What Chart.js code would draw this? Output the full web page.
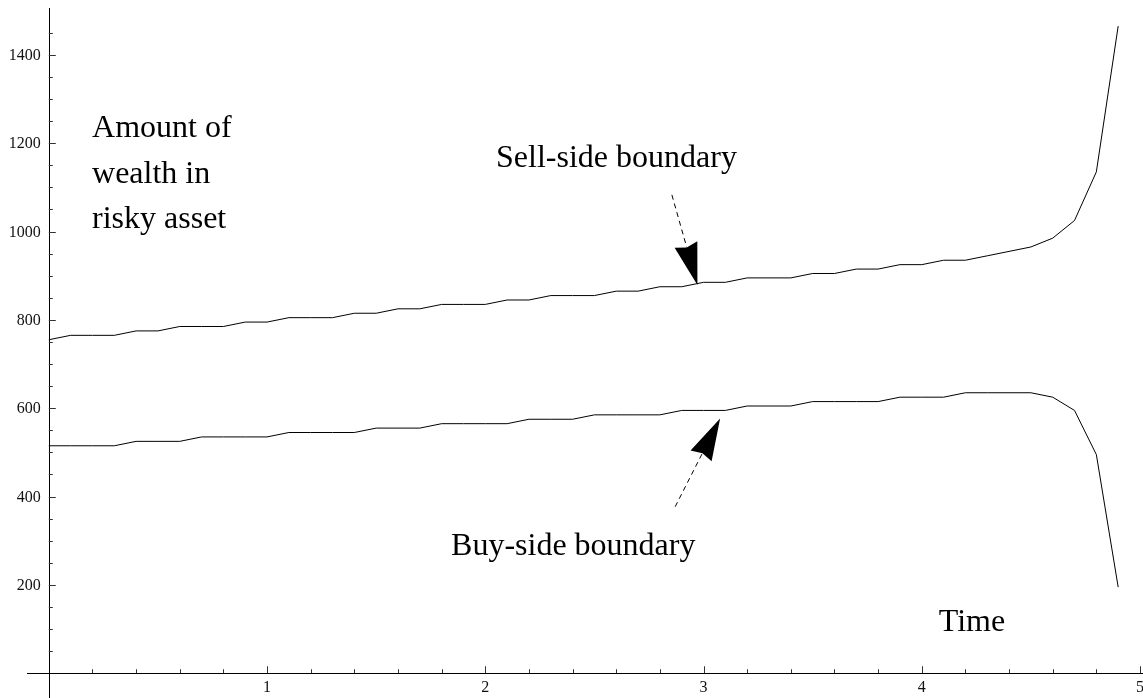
<!DOCTYPE html>
<html lang="en">
  <head>
    <meta charset="UTF-8" />
    <title>Trading boundaries</title>
    <script src="https://cdn.jsdelivr.net/npm/chart.js@4"></script>
    <style>
      html, body { margin: 0; padding: 0; background: #fff; }
      canvas { display: block; }
    </style>
  </head>
  <body>
    <canvas id="myChart" width="1143" height="698"></canvas>

    <script>
      // time grid, step 0.1
      const times = [
        0.0, 0.1, 0.2, 0.3, 0.4, 0.5, 0.6, 0.7, 0.8, 0.9,
        1.0, 1.1, 1.2, 1.3, 1.4, 1.5, 1.6, 1.7, 1.8, 1.9,
        2.0, 2.1, 2.2, 2.3, 2.4, 2.5, 2.6, 2.7, 2.8, 2.9,
        3.0, 3.1, 3.2, 3.3, 3.4, 3.5, 3.6, 3.7, 3.8, 3.9,
        4.0, 4.1, 4.2, 4.3, 4.4, 4.5, 4.6, 4.7, 4.8, 4.9
      ];
      const sellBoundary = [
        755, 765, 765, 765, 775, 775, 785, 785, 785, 795,
        795, 805, 805, 805, 815, 815, 825, 825, 835, 835,
        835, 845, 845, 855, 855, 855, 865, 865, 875, 875,
        885, 885, 895, 895, 895, 905, 905, 915, 915, 925,
        925, 935, 935, 945, 955, 965, 985, 1025, 1135, 1465
      ];
      const buyBoundary = [
        515, 515, 515, 515, 525, 525, 525, 535, 535, 535,
        535, 545, 545, 545, 545, 555, 555, 555, 565, 565,
        565, 565, 575, 575, 575, 585, 585, 585, 585, 595,
        595, 595, 605, 605, 605, 615, 615, 615, 615, 625,
        625, 625, 635, 635, 635, 635, 625, 595, 495, 195
      ];
      const xTickLabels = [1, 2, 3, 4, 5];
      const yTickLabels = [200, 400, 600, 800, 1000, 1200, 1400];

      // arrows: [tailX, tailY] -> [tipX, tipY] in data units
      const sellArrow = { from: [2.855, 1083], to: [2.972, 879] };
      const buyArrow = { from: [2.870, 377], to: [3.076, 577] };

      const labels = [
        { text: 'Amount of', x: 0.198, y: 1215, align: 'left' },
        { text: 'wealth in', x: 0.198, y: 1109, align: 'left' },
        { text: 'risky asset', x: 0.198, y: 1007, align: 'left' },
        { text: 'Sell-side boundary', x: 2.601, y: 1146, align: 'center' },
        { text: 'Buy-side boundary', x: 2.403, y: 268, align: 'center' },
        { text: 'Time', x: 4.23, y: 96, align: 'center' }
      ];

      const serif = '"Liberation Serif", "Times New Roman", serif';

      function toPoints(ys) {
        return times.map((t, i) => ({ x: t, y: ys[i] }));
      }

      function drawArrow(ctx, x0, y0, x1, y1) {
        const headLen = 42, halfW = 11.8, notch = 3;
        const dx = x1 - x0, dy = y1 - y0;
        const len = Math.hypot(dx, dy);
        const ux = dx / len, uy = dy / len;
        const px = -uy, py = ux;
        const bx = x1 - ux * headLen, by = y1 - uy * headLen;

        ctx.save();
        ctx.strokeStyle = '#000';
        ctx.lineWidth = 1;
        ctx.setLineDash([5, 4]);
        ctx.beginPath();
        ctx.moveTo(x0, y0);
        ctx.lineTo(bx + ux * notch, by + uy * notch);
        ctx.stroke();
        ctx.setLineDash([]);

        ctx.fillStyle = '#000';
        ctx.beginPath();
        ctx.moveTo(x1, y1);
        ctx.lineTo(bx + px * halfW, by + py * halfW);
        ctx.lineTo(bx + ux * notch, by + uy * notch);
        ctx.lineTo(bx - px * halfW, by - py * halfW);
        ctx.closePath();
        ctx.fill();
        ctx.restore();
      }

      // axes through the origin, ticks pointing inward
      const originAxes = {
        id: 'originAxes',
        beforeDatasetsDraw(chart) {
          const ctx = chart.ctx;
          const xs = chart.scales.x, ys = chart.scales.y;
          const x0 = xs.getPixelForValue(0);
          const y0 = ys.getPixelForValue(0);
          const W = chart.width, H = chart.height;

          ctx.save();
          ctx.strokeStyle = '#000';
          ctx.lineWidth = 1;
          ctx.beginPath();
          ctx.moveTo(chart.chartArea.left, Math.round(y0) + 0.5);
          ctx.lineTo(W, Math.round(y0) + 0.5);
          ctx.moveTo(Math.round(x0) + 0.5, chart.chartArea.top);
          ctx.lineTo(Math.round(x0) + 0.5, H);
          ctx.stroke();

          ctx.strokeStyle = '#333';
          ctx.beginPath();
          // x ticks every 0.2, major at integers
          for (let k = 1; k <= 25; k++) {
            const v = k / 5;
            const px = Math.round(xs.getPixelForValue(v)) + 0.5;
            const len = k % 5 === 0 ? 7 : 4;
            ctx.moveTo(px, y0);
            ctx.lineTo(px, y0 - len);
          }
          // y ticks every 50, major every 200
          for (let k = 1; k <= 29; k++) {
            const v = k * 50;
            const py = Math.round(ys.getPixelForValue(v)) + 0.5;
            const len = v % 200 === 0 ? 7 : 4;
            ctx.moveTo(x0, py);
            ctx.lineTo(x0 + len, py);
          }
          ctx.stroke();

          ctx.fillStyle = '#111';
          ctx.font = '16px ' + serif;
          ctx.textAlign = 'center';
          ctx.textBaseline = 'top';
          xTickLabels.forEach(v => {
            ctx.fillText(String(v), xs.getPixelForValue(v), y0 + 7);
          });
          ctx.textAlign = 'right';
          ctx.textBaseline = 'middle';
          yTickLabels.forEach(v => {
            ctx.fillText(String(v), x0 - 8, ys.getPixelForValue(v) + 1);
          });
          ctx.restore();
        },
        afterDatasetsDraw(chart) {
          const ctx = chart.ctx;
          const xs = chart.scales.x, ys = chart.scales.y;
          [sellArrow, buyArrow].forEach(a => {
            drawArrow(ctx,
              xs.getPixelForValue(a.from[0]), ys.getPixelForValue(a.from[1]),
              xs.getPixelForValue(a.to[0]), ys.getPixelForValue(a.to[1]));
          });

          ctx.save();
          ctx.fillStyle = '#000';
          ctx.font = '32px ' + serif;
          ctx.textBaseline = 'alphabetic';
          labels.forEach(l => {
            ctx.textAlign = l.align;
            ctx.fillText(l.text, xs.getPixelForValue(l.x), ys.getPixelForValue(l.y));
          });
          ctx.restore();
        }
      };

      const ctx = document.getElementById('myChart').getContext('2d');
      const myChart = new Chart(ctx, {
        type: 'line',
        data: {
          datasets: [
            {
              label: 'Sell-side boundary',
              data: toPoints(sellBoundary),
              borderColor: '#000',
              borderWidth: 1,
              pointRadius: 0,
              tension: 0,
              fill: false
            },
            {
              label: 'Buy-side boundary',
              data: toPoints(buyBoundary),
              borderColor: '#000',
              borderWidth: 1,
              pointRadius: 0,
              tension: 0,
              fill: false
            }
          ]
        },
        options: {
          responsive: false,
          animation: false,
          layout: { padding: { left: 27, right: 3, top: 8, bottom: 0 } },
          plugins: {
            legend: { display: false },
            tooltip: { enabled: false }
          },
          scales: {
            x: { type: 'linear', min: -0.1, max: 5.0, display: false },
            y: { type: 'linear', min: -56, max: 1506, display: false }
          }
        },
        plugins: [originAxes]
      });
    </script>
  </body>
</html>
